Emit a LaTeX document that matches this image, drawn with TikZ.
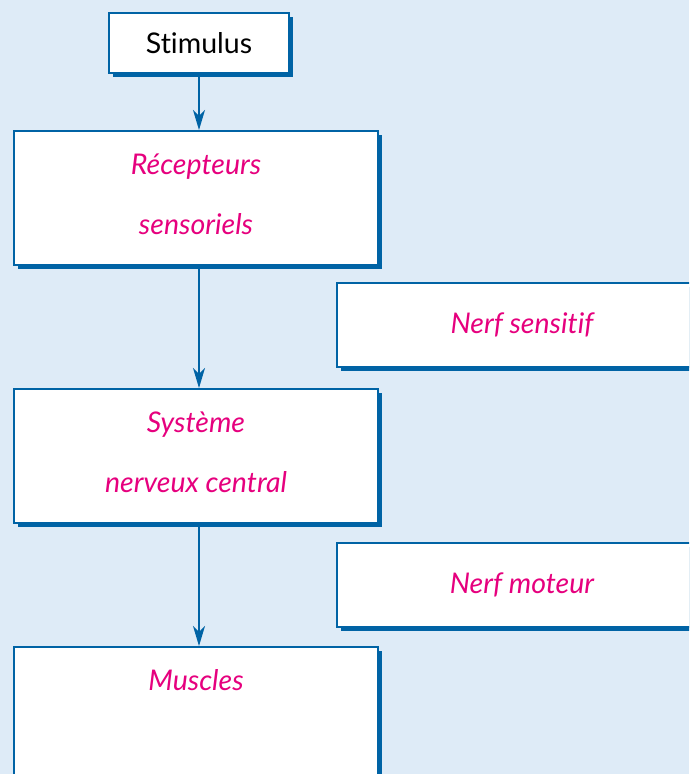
\documentclass[tikz,border=0pt]{standalone}
\usepackage{fontspec}
\setsansfont[Ligatures={NoCommon,NoRare}]{Lato}
\usetikzlibrary{arrows.meta,shadows}
\definecolor{bgblue}{HTML}{DEEBF7}
\definecolor{darkblue}{HTML}{0063A5}
\definecolor{pink}{HTML}{E6007E}
\begin{document}
\begin{tikzpicture}[x=1pt, y=-1pt,
		box/.style={draw=darkblue, line width=2pt, fill=white, anchor=north west, inner sep=0pt, align=center,
			drop shadow={opacity=1, fill=darkblue, shadow xshift=3.5pt, shadow yshift=-3.5pt}},
		big box/.style={box, minimum width=364pt, minimum height=134pt, text=pink,
			font=\sffamily\itshape\fontsize{28.5}{31}\selectfont},
		nerf box/.style={box, minimum width=370pt, minimum height=84pt, text=pink,
			font=\sffamily\itshape\fontsize{28.5}{31}\selectfont},
		link/.style={darkblue, line width=1.3pt, -{Stealth[length=20pt, width=12pt, inset=6pt]}}]
			\clip (0,0) rectangle (689,774);
			\fill[bgblue] (0,0) rectangle (689,774);
			\node[box, minimum width=180pt, minimum height=60pt, font=\sffamily\fontsize{28.5}{31}\selectfont] (stimulus) at (108,12) {Stimulus};
			\node[big box] (recepteurs) at (13,130) {\strut Récepteurs\\[29pt]\strut sensoriels};
			\node[nerf box] (sensitif) at (336,282) {Nerf sensitif};
			\node[big box] (snc) at (13,388) {\strut Système\\[29pt]\strut nerveux central};
			\node[nerf box] (moteur) at (336,542) {Nerf moteur};
			\node[big box] (muscles) at (13,646) {\strut Muscles\\[29pt]\strut};
			\foreach \a/\b in {stimulus/recepteurs, recepteurs/snc, snc/muscles}{
			  \draw[link] (\a.south -| stimulus) -- (\b.north -| stimulus);
			}
		\end{tikzpicture}
\end{document}
